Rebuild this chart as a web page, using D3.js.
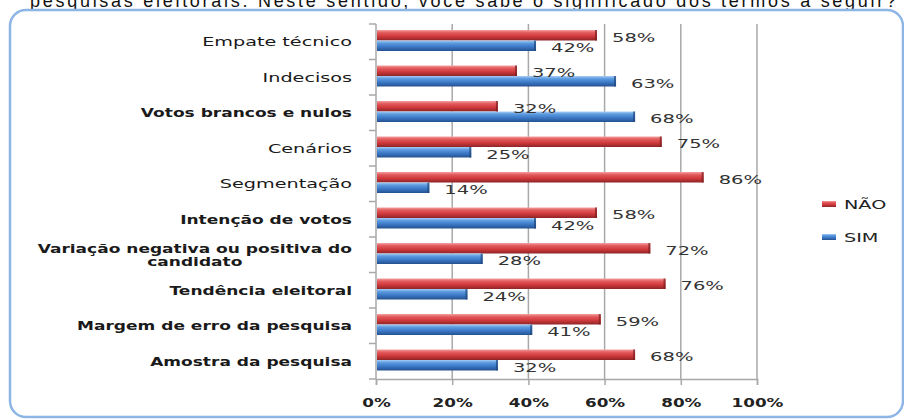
<!DOCTYPE html>
<html>
<head>
<meta charset="utf-8">
<script src="https://cdn.jsdelivr.net/npm/d3@7"></script>
<style>
  body { margin: 0; background: #fff; }
  svg { display: block; }
</style>
</head>
<body>
<svg id="chart" width="904" height="420"></svg>
<script>
var categories = ["Empate técnico", "Indecisos", "Votos brancos e nulos", "Cenários", "Segmentação",
    "Intenção de votos", "Variação negativa ou positiva do\ncandidato", "Tendência eleitoral",
    "Margem de erro da pesquisa", "Amostra da pesquisa"];
var boldCategories = [false, false, true, false, false, true, true, true, true, true];
var naoValues = [58, 37, 32, 75, 86, 58, 72, 76, 59, 68];
var simValues = [42, 63, 68, 25, 14, 42, 28, 24, 41, 32];
var seriesNames = ["NÃO", "SIM"];
var xTicks = [0, 20, 40, 60, 80, 100];
var heading = "pesquisas eleitorais. Neste sentido, você sabe o significado dos termos a seguir?";

var svg = d3.select("#chart");
var plotLeft = 376, plotRight = 757, plotTop = 24, plotBottom = 379;
var stretch = 1.5;

var defs = svg.append("defs");
function grad(id, stops) {
    var g = defs.append("linearGradient").attr("id", id)
        .attr("x1", 0).attr("y1", 0).attr("x2", 0).attr("y2", 1);
    stops.forEach(function(s) {
        g.append("stop").attr("offset", s[0]).attr("stop-color", s[1]);
    });
}
grad("gRed", [[0, "#f4a0a0"], [0.25, "#e25c5e"], [0.6, "#d0393c"], [1, "#8e2426"]]);
grad("gBlue", [[0, "#a9cdf5"], [0.25, "#5d9be0"], [0.6, "#3b78c6"], [1, "#24518f"]]);

// heading, cut off at the top
svg.append("text")
    .attr("x", 30).attr("y", 6.5)
    .attr("font-family", "Liberation Sans, Arial, sans-serif")
    .attr("font-size", 18)
    .attr("textLength", 866)
    .attr("fill", "#111")
    .text(heading);

// frame
svg.append("rect")
    .attr("x", 10).attr("y", 10).attr("width", 893).attr("height", 407)
    .attr("rx", 16)
    .attr("fill", "none")
    .attr("stroke", "#8db5e5")
    .attr("stroke-width", 2.5);

var x = d3.scaleLinear().domain([0, 100]).range([plotLeft, plotRight]);
var y = d3.scaleBand().domain(d3.range(categories.length)).range([plotTop, plotBottom]);
var ySub = d3.scaleBand().domain(seriesNames).range([6, 27]);

// grid lines
svg.append("g").selectAll("line").data(xTicks.slice(1)).enter().append("line")
    .attr("x1", function(d) { return x(d) }).attr("x2", function(d) { return x(d) })
    .attr("y1", plotTop).attr("y2", plotBottom)
    .attr("stroke", "#a8a8a8").attr("stroke-width", 1.5);

// left axis
svg.append("line").attr("x1", plotLeft).attr("x2", plotLeft).attr("y1", plotTop).attr("y2", plotBottom)
    .attr("stroke", "#a8a8a8").attr("stroke-width", 1.5);
svg.append("g").selectAll("line").data(d3.range(categories.length + 1)).enter().append("line")
    .attr("x1", plotLeft - 7).attr("x2", plotLeft)
    .attr("y1", function(d) { return plotTop + d * y.step() })
    .attr("y2", function(d) { return plotTop + d * y.step() })
    .attr("stroke", "#a8a8a8").attr("stroke-width", 1.5);

// bottom axis
var xAxis = d3.axisBottom(x).tickValues(xTicks).tickSize(6).tickPadding(13)
    .tickFormat(function(d) { return d + "%" });
var gx = svg.append("g").attr("transform", "translate(0," + plotBottom + ")").call(xAxis);
gx.select(".domain").attr("stroke", "#a8a8a8").attr("stroke-width", 1.5);
gx.selectAll(".tick line").attr("stroke", "#a8a8a8").attr("stroke-width", 1.5);
gx.selectAll(".tick text")
    .attr("font-family", "DejaVu Sans, sans-serif")
    .attr("font-size", 12).attr("font-weight", "bold").attr("fill", "#222")
    .attr("transform", "scale(1.4,1)");

// bars
var rows = categories.map(function(c, i) {
    return [{ s: "NÃO", v: naoValues[i], i: i }, { s: "SIM", v: simValues[i], i: i }];
});
var barData = [].concat.apply([], rows);

svg.append("g").selectAll("rect").data(barData).enter().append("rect")
    .attr("x", plotLeft + 1)
    .attr("y", function(d) { return y(d.i) + ySub(d.s) })
    .attr("width", function(d) { return x(d.v) - plotLeft - 1 })
    .attr("height", ySub.bandwidth())
    .attr("fill", function(d) { return d.s == "NÃO" ? "url(#gRed)" : "url(#gBlue)" });

// bar end shading
svg.append("g").selectAll("rect").data(barData).enter().append("rect")
    .attr("x", function(d) { return x(d.v) - 2 })
    .attr("y", function(d) { return y(d.i) + ySub(d.s) })
    .attr("width", 2)
    .attr("height", ySub.bandwidth())
    .attr("fill", function(d) { return d.s == "NÃO" ? "#7a1e20" : "#1f4679" })
    .attr("opacity", 0.7);

// value labels
svg.append("g").selectAll("text").data(barData).enter().append("text")
    .attr("transform", function(d) {
        return "translate(" + (x(d.v) + 15) + "," + (y(d.i) + ySub(d.s) + ySub.bandwidth() / 2 + 6.5) + ") scale(" + stretch + ",1)";
    })
    .attr("font-family", "DejaVu Sans, sans-serif")
    .attr("font-size", 13)
    .attr("fill", "#333")
    .text(function(d) { return d.v + "%" });

// category labels
var cat = svg.append("g").selectAll("g").data(categories).enter().append("g");
cat.each(function(c, i) {
    var lines = c.split("\n");
    var g = d3.select(this);
    var bold = boldCategories[i];
    var sx = bold ? 1.42 : 1.6;
    var cy = y(i) + y.bandwidth() / 2;
    lines.forEach(function(t, k) {
        var ly = cy + (k - (lines.length - 1) / 2) * 13 + 4.5;
        var txt = g.append("text")
            .attr("font-family", "DejaVu Sans, sans-serif")
            .attr("font-size", 12)
            .attr("font-weight", bold ? "bold" : "normal")
            .attr("fill", "#1a1a1a")
            .text(t);
        if (k == 0) {
            txt.attr("text-anchor", "end")
                .attr("transform", "translate(352," + ly + ") scale(" + sx + ",1)");
        } else {
            var w0 = g.select("text").node().getComputedTextLength() * sx;
            txt.attr("text-anchor", "middle")
                .attr("transform", "translate(" + (352 - w0 / 2) + "," + ly + ") scale(" + sx + ",1)");
        }
    });
});

// legend
var legend = svg.append("g").selectAll("g").data(seriesNames).enter().append("g")
    .attr("transform", function(d, i) { return "translate(822," + (201 + i * 33) + ")" });
legend.append("rect")
    .attr("width", 14).attr("height", 6)
    .attr("fill", function(d) { return d == "NÃO" ? "url(#gRed)" : "url(#gBlue)" });
legend.append("text")
    .attr("transform", "translate(22,8) scale(1.6,1)")
    .attr("font-family", "DejaVu Sans, sans-serif")
    .attr("font-size", 12)
    .attr("fill", "#222")
    .text(function(d) { return d });
</script>
</body>
</html>
